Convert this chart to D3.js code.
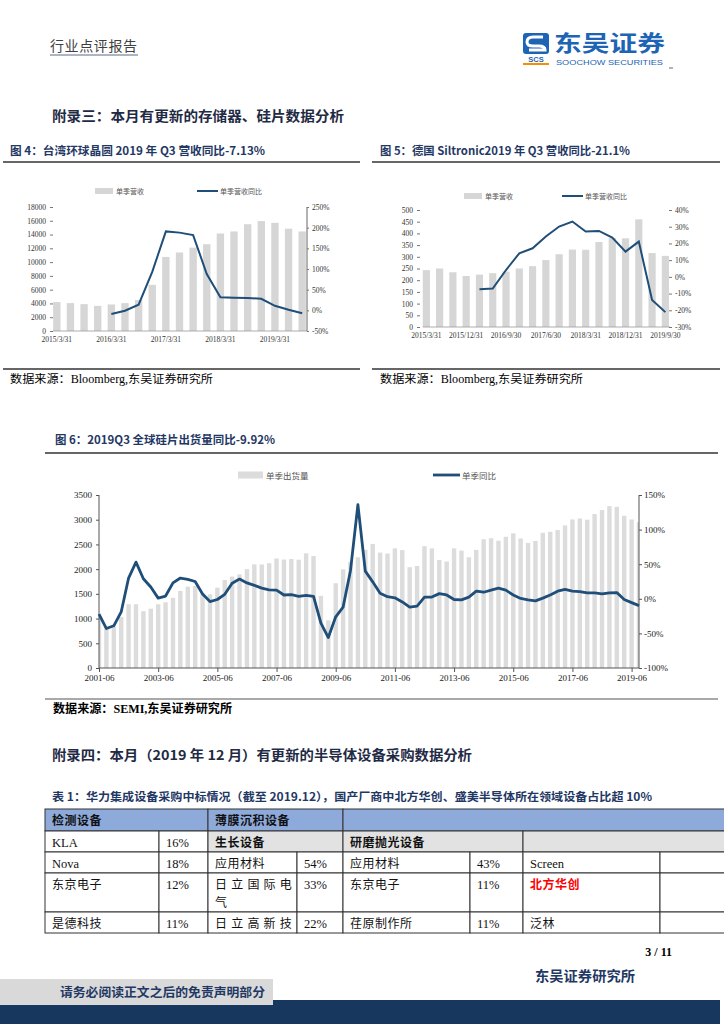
<!DOCTYPE html>
<html><head><meta charset="utf-8">
<script src="https://cdn.jsdelivr.net/npm/d3@7"></script>
<style>
body{margin:0;background:#fff;}
svg{display:block;}
</style></head><body>
<svg id="page" width="724" height="1024"></svg>
<script>
// ---------------- DATA ----------------
const fig4Categories = ["2015/3/31","2015/6/30","2015/9/30","2015/12/31","2016/3/31","2016/6/30","2016/9/30","2016/12/31","2017/3/31","2017/6/30","2017/9/30","2017/12/31","2018/3/31","2018/6/30","2018/9/30","2018/12/31","2019/3/31","2019/6/30","2019/9/30"];
const fig4Revenue = [4200,4050,3900,3650,3850,4050,4500,6700,10750,11400,12100,12600,14150,14450,15500,15950,15700,14850,14450];
const fig4YoY = [null,null,null,null,-9,-1,13.5,93,191,188,182,88,31.5,30.5,30,28,11,1.5,-7.13];
const fig4LeftTicks = [0,2000,4000,6000,8000,10000,12000,14000,16000,18000];
const fig4RightTicks = [-50,0,50,100,150,200,250];
const fig4Labels = ["2015/3/31","2016/3/31","2017/3/31","2018/3/31","2019/3/31"];

const fig5Categories = fig4Categories;
const fig5Revenue = [243,250,234,218,224,230,237,250,260,286,311,331,330,363,380,379,460,316,304];
const fig5YoY = [null,null,null,null,-7.4,-7.0,4.1,14.1,17.1,24.1,30.1,33.1,27.1,27.5,23.5,15.1,21.1,-13.8,-21.1];
const fig5LeftTicks = [0,50,100,150,200,250,300,350,400,450,500];
const fig5RightTicks = [-30,-20,-10,0,10,20,30,40];
const fig5Labels = ["2015/3/31","2015/12/31","2016/9/30","2017/6/30","2018/3/31","2018/12/31","2019/9/30"];

const fig6Categories = ["2001-06","2001-09","2001-12",
"2002-03","2002-06","2002-09","2002-12","2003-03","2003-06","2003-09","2003-12",
"2004-03","2004-06","2004-09","2004-12","2005-03","2005-06","2005-09","2005-12",
"2006-03","2006-06","2006-09","2006-12","2007-03","2007-06","2007-09","2007-12",
"2008-03","2008-06","2008-09","2008-12","2009-03","2009-06","2009-09","2009-12",
"2010-03","2010-06","2010-09","2010-12","2011-03","2011-06","2011-09","2011-12",
"2012-03","2012-06","2012-09","2012-12","2013-03","2013-06","2013-09","2013-12",
"2014-03","2014-06","2014-09","2014-12","2015-03","2015-06","2015-09","2015-12",
"2016-03","2016-06","2016-09","2016-12","2017-03","2017-06","2017-09","2017-12",
"2018-03","2018-06","2018-09","2018-12","2019-03","2019-06","2019-09"];
const fig6Shipments = [1050,800,830,1030,1290,1290,1150,1200,1290,1330,1420,1560,1645,1660,1500,1490,1625,1780,1850,1895,2000,2095,2095,2120,2215,2195,2205,2190,2320,2265,1460,965,1715,1995,2150,2240,2390,2510,2335,2315,2420,2385,2040,2065,2465,2420,2185,2155,2420,2375,2240,2390,2605,2625,2575,2655,2725,2620,2530,2570,2735,2755,2790,2885,3005,3025,3000,3115,3195,3275,3260,3080,3005,2950];
const fig6YoY = [-22,-43,-39,-19,30,53,29,17,1,4,23,30,28,25,7,-4,-1,6.5,22.5,28.5,23,19.5,15.5,13,12.5,5.5,6,3.5,5,3.5,-35,-56,-26,-12,41,136,40,24.5,8,3,1.5,-4.5,-12,-10.5,2.5,2.5,7.5,5.5,-1,-1.5,2.5,11,9.5,12.5,15.5,12.5,5.5,0.5,-1.5,-3,1,5.5,11,13.5,11,10.5,8.5,8.5,7,8.7,9,-1,-5.5,-9.92];
const fig6LeftTicks = [0,500,1000,1500,2000,2500,3000,3500];
const fig6RightTicks = [-100,-50,0,50,100,150];
const fig6Labels = ["2001-06","2003-06","2005-06","2007-06","2009-06","2011-06","2013-06","2015-06","2017-06","2019-06"];

const tableRows = [
  [{c:[0,2],t:"检测设备",h:1},{c:[2,4],t:"薄膜沉积设备",h:1},{c:[4,8],t:"",h:1}],
  [{c:[0,1],t:"KLA"},{c:[1,2],t:"16%"},{c:[2,4],t:"生长设备",s:1},{c:[4,6],t:"研磨抛光设备",s:1},{c:[6,8],t:"",s:1}],
  [{c:[0,1],t:"Nova"},{c:[1,2],t:"18%"},{c:[2,3],t:"应用材料"},{c:[3,4],t:"54%"},{c:[4,5],t:"应用材料"},{c:[5,6],t:"43%"},{c:[6,7],t:"Screen"},{c:[7,8],t:""}],
  [{c:[0,1],t:"东京电子"},{c:[1,2],t:"12%"},{c:[2,3],t:"日立国际电气",wrap:5},{c:[3,4],t:"33%"},{c:[4,5],t:"东京电子"},{c:[5,6],t:"11%"},{c:[6,7],t:"北方华创",red:1},{c:[7,8],t:""}],
  [{c:[0,1],t:"是德科技"},{c:[1,2],t:"11%"},{c:[2,3],t:"日立高新技",sp:1},{c:[3,4],t:"22%"},{c:[4,5],t:"荏原制作所"},{c:[5,6],t:"11%"},{c:[6,7],t:"泛林"},{c:[7,8],t:""}]
];

// ---------------- STYLE ----------------
const svg = d3.select("#page");
const CJK = "'Noto Sans CJK SC', sans-serif";
const SERIF = "'Liberation Serif','Noto Sans CJK SC', serif";
const NAVY = "#1f3864";
const LINE_BLUE = "#1f4e79";

function text(x, y, s, o = {}) {
  const t = svg.append("text").attr("x", x).attr("y", y).text(s)
    .attr("font-family", o.family || CJK).attr("font-size", o.size || 12)
    .attr("font-weight", o.weight || "normal").attr("fill", o.fill || "#000");
  if (o.anchor) t.attr("text-anchor", o.anchor);
  if (o.len) t.attr("textLength", o.len).attr("lengthAdjust", "spacingAndGlyphs");
  if (o.ls) t.attr("letter-spacing", o.ls);
  return t;
}
function hline(x1, x2, y, w, c) {
  svg.append("line").attr("x1", x1).attr("x2", x2).attr("y1", y).attr("y2", y)
    .attr("stroke", c || "#333").attr("stroke-width", w || 1);
}

// ---------------- PAGE HEADER ----------------
text(50, 51, "行业点评报告", {size: 14, fill: "#404040", ls: 0.6});
hline(50, 138, 55, 1, "#5a6a8a");
// logo
svg.append("rect").attr("x", 523).attr("y", 33).attr("width", 26).attr("height", 21).attr("rx", 3).attr("fill", "#1e64b4");
svg.append("path").attr("d", "M543,37 L533,37 Q527,37 527,42 Q527,46 533,46 L539,46 Q545,46 545,50 L529,50")
  .attr("fill", "none").attr("stroke", "#fff").attr("stroke-width", 3);
text(536, 62, "SCS", {family: "'Liberation Sans', sans-serif", size: 7.5, weight: "bold", fill: "#1e64b4", anchor: "middle"});
svg.append("rect").attr("x", 523).attr("y", 63).attr("width", 26).attr("height", 2).attr("fill", "#f29100");
text(554, 51, "东吴证券", {size: 22, weight: "bold", fill: "#1e64b4", len: 111});
text(556, 65, "SOOCHOW SECURITIES", {family: "'Liberation Sans', sans-serif", size: 7.5, fill: "#1e64b4", len: 107});
hline(669, 673, 68, 1, "#666");

text(52, 121, "附录三：本月有更新的存储器、硅片数据分析", {size: 13.5, weight: "bold", fill: "#1f2a44", len: 292});

// ---------------- COMBO CHART (fig 4/5) ----------------
function drawCombo(cfg) {
  const g = svg.append("g");
  const x = d3.scaleBand().domain(cfg.categories).range(cfg.xRange).paddingInner(0.46).paddingOuter(0.23);
  const yL = d3.scaleLinear().domain(cfg.leftDomain).range(cfg.yRange);
  const yR = d3.scaleLinear().domain(cfg.rightDomain).range(cfg.yRange);
  text(cfg.titleX, 155, cfg.title, {size: 11.5, weight: "bold", fill: NAVY, len: cfg.titleLen});
  hline(cfg.ruleX[0], cfg.ruleX[1], 162, 1.6, "#333");
  hline(cfg.ruleX[0], cfg.ruleX[1], 369, 1.6, "#333");
  text(cfg.titleX, 383, "数据来源：Bloomberg,东吴证券研究所", {family: SERIF, size: 11.5, len: 203});
  g.selectAll("rect.bar").data(cfg.bars).join("rect").attr("class", "bar")
    .attr("x", (d, i) => x(cfg.categories[i])).attr("width", x.bandwidth())
    .attr("y", d => yL(d)).attr("height", d => yL(0) - yL(d)).attr("fill", "#d6d6d6");
  g.append("line").attr("x1", cfg.xRange[0] + 3).attr("x2", cfg.xRange[1] - 2)
    .attr("y1", yL(0)).attr("y2", yL(0)).attr("stroke", "#9a9a9a").attr("stroke-width", 0.8);
  const la = g.append("g").attr("transform", `translate(${cfg.leftAxisX},0)`)
    .call(d3.axisLeft(yL).tickValues(cfg.leftTicks).tickSize(3).tickPadding(4).tickFormat(d3.format("d")));
  la.select(".domain").remove();
  la.selectAll("line").attr("stroke", "#777");
  la.selectAll("text").attr("font-family", SERIF).attr("font-size", 7.5).attr("fill", "#333");
  const ra = g.append("g").attr("transform", `translate(${cfg.rightAxisX},0)`)
    .call(d3.axisRight(yR).tickValues(cfg.rightTicks).tickSize(cfg.rightTick).tickPadding(3).tickFormat(d => d + "%"));
  if (!cfg.rightDomainLine) ra.select(".domain").remove();
  else ra.select(".domain").attr("stroke", "#666").attr("d", `M0,${cfg.yRange[1]}V${cfg.yRange[0]}`);
  ra.selectAll("line").attr("stroke", "#777");
  ra.selectAll("text").attr("font-family", SERIF).attr("font-size", 7.5).attr("fill", "#333");
  g.selectAll("text.xl").data(cfg.labels).join("text").attr("class", "xl")
    .attr("x", d => x(d) + x.bandwidth() / 2).attr("y", yL(0) + 11).attr("text-anchor", "middle")
    .attr("font-family", SERIF).attr("font-size", 7.5).attr("fill", "#333").text(d => d);
  const line = d3.line().defined(d => d.v !== null)
    .x(d => x(d.c) + x.bandwidth() / 2).y(d => yR(d.v));
  g.append("path").datum(cfg.categories.map((c, i) => ({c, v: cfg.line[i]})))
    .attr("d", line).attr("fill", "none").attr("stroke", LINE_BLUE).attr("stroke-width", 2);
  const ly = cfg.legendY;
  g.append("rect").attr("x", cfg.legend[0]).attr("y", ly - 3).attr("width", 18).attr("height", 6).attr("fill", "#d6d6d6");
  text(cfg.legend[0] + 21, ly + 2.5, cfg.barName, {size: 7, fill: "#555"});
  g.append("line").attr("x1", cfg.legend[1]).attr("x2", cfg.legend[1] + 21).attr("y1", ly).attr("y2", ly)
    .attr("stroke", LINE_BLUE).attr("stroke-width", 2);
  text(cfg.legend[1] + 23, ly + 2.5, cfg.lineName, {size: 7, fill: "#555"});
}

drawCombo({
  title: "图 4：台湾环球晶圆 2019 年 Q3 营收同比-7.13%", titleX: 10, titleLen: 255, ruleX: [3, 360],
  categories: fig4Categories, bars: fig4Revenue, line: fig4YoY, labels: fig4Labels,
  xRange: [50, 309], yRange: [331, 207], leftDomain: [0, 18000], rightDomain: [-50, 250],
  leftTicks: fig4LeftTicks, rightTicks: fig4RightTicks,
  leftAxisX: 53, rightAxisX: 307, rightTick: 2, rightDomainLine: true,
  legendY: 191, legend: [95, 197], barName: "单季营收", lineName: "单季营收同比"
});
drawCombo({
  title: "图 5：德国 Siltronic2019 年 Q3 营收同比-21.1%", titleX: 380, titleLen: 250, ruleX: [372, 720],
  categories: fig5Categories, bars: fig5Revenue, line: fig5YoY, labels: fig5Labels,
  xRange: [419.7, 672], yRange: [327, 210], leftDomain: [0, 500], rightDomain: [-30, 40],
  leftTicks: fig5LeftTicks, rightTicks: fig5RightTicks,
  leftAxisX: 420, rightAxisX: 669, rightTick: 3, rightDomainLine: false,
  legendY: 196, legend: [464, 562], barName: "单季营收", lineName: "单季营收同比"
});

// ---------------- FIG 6 ----------------
(function () {
  const g = svg.append("g");
  const X0 = 99, X1 = 639, Y0 = 668, Y1 = 495;
  text(55, 444, "图 6：2019Q3 全球硅片出货量同比-9.92%", {size: 11.5, weight: "bold", fill: NAVY, len: 220});
  hline(45, 718, 453, 1.6, "#333");
  hline(45, 718, 699, 1.2, "#555");
  text(53, 713, "数据来源：SEMI,东吴证券研究所", {family: SERIF, size: 12, weight: "bold", len: 179});

  const x = d3.scalePoint().domain(fig6Categories).range([X0, X1]);
  const yL = d3.scaleLinear().domain([0, 3500]).range([Y0, Y1]);
  const yR = d3.scaleLinear().domain([-100, 150]).range([Y0, Y1]);
  svg.append("clipPath").attr("id", "clip6").append("rect").attr("x", X0).attr("y", Y1 - 5).attr("width", X1 - X0).attr("height", Y0 - Y1 + 5);
  const bw = 4.4;
  g.append("g").attr("clip-path", "url(#clip6)").selectAll("rect").data(fig6Shipments).join("rect")
    .attr("x", (d, i) => x(fig6Categories[i]) - bw / 2).attr("width", bw)
    .attr("y", d => yL(d)).attr("height", d => Y0 - yL(d)).attr("fill", "#dcdcdc");

  const la = g.append("g").attr("transform", `translate(${X0},0)`)
    .call(d3.axisLeft(yL).tickValues(fig6LeftTicks).tickSize(3).tickPadding(4).tickFormat(d3.format("d")));
  la.select(".domain").attr("stroke", "#555").attr("d", `M0,${Y1}V${Y0}`);
  la.selectAll("line").attr("stroke", "#555");
  la.selectAll("text").attr("font-family", SERIF).attr("font-size", 9).attr("fill", "#222");

  const ra = g.append("g").attr("transform", `translate(${X1},0)`)
    .call(d3.axisRight(yR).tickValues(fig6RightTicks).tickSize(3).tickPadding(2).tickFormat(d => d + "%"));
  ra.select(".domain").attr("stroke", "#555").attr("d", `M0,${Y1}V${Y0}`);
  ra.selectAll("line").attr("stroke", "#555");
  ra.selectAll("text").attr("font-family", SERIF).attr("font-size", 9).attr("fill", "#222");

  const ba = g.append("g").attr("transform", `translate(0,${Y0})`)
    .call(d3.axisBottom(x).tickValues(fig6Labels).tickSize(4).tickPadding(3));
  ba.select(".domain").attr("stroke", "#555").attr("d", `M${X0},0H${X1}`);
  ba.selectAll("line").attr("stroke", "#555");
  ba.selectAll("text").attr("font-family", SERIF).attr("font-size", 9).attr("fill", "#222");

  const line = d3.line().x((d, i) => x(fig6Categories[i])).y(d => yR(d));
  g.append("path").datum(fig6YoY).attr("d", line).attr("fill", "none")
    .attr("stroke", LINE_BLUE).attr("stroke-width", 2.8).attr("stroke-linejoin", "round");

  g.append("rect").attr("x", 238).attr("y", 471.5).attr("width", 25).attr("height", 7).attr("fill", "#dcdcdc");
  text(266, 478.5, "单季出货量", {size: 8.5, fill: "#555"});
  g.append("line").attr("x1", 433).attr("x2", 460).attr("y1", 475).attr("y2", 475).attr("stroke", LINE_BLUE).attr("stroke-width", 2.8);
  text(462, 478.5, "单季同比", {size: 8.5, fill: "#555"});
})();

// ---------------- APPENDIX 4 + TABLE ----------------
text(52, 760, "附录四：本月（2019 年 12 月）有更新的半导体设备采购数据分析", {size: 13.5, weight: "bold", fill: "#1f2a44", len: 420});
text(52, 801, "表 1：华力集成设备采购中标情况（截至 2019.12），国产厂商中北方华创、盛美半导体所在领域设备占比超 10%", {size: 11.5, weight: "bold", fill: NAVY, len: 600});

(function () {
  const colX = [45, 159, 208, 297, 343, 470, 523, 660, 740];
  const rowY = [809, 831, 852, 873, 912, 933];
  const tg = svg.append("g");
  tableRows.forEach((row, r) => {
    row.forEach(cell => {
      const x0 = colX[cell.c[0]], x1 = colX[cell.c[1]], y0 = rowY[r], y1 = rowY[r + 1];
      tg.append("rect").attr("x", x0).attr("y", y0).attr("width", x1 - x0).attr("height", y1 - y0)
        .attr("fill", cell.h ? "#8eaadb" : (cell.s ? "#e2e2e2" : "#fff"))
        .attr("stroke", "#333").attr("stroke-width", 1);
      if (!cell.t) return;
      const latin = /^[A-Za-z0-9%]+$/.test(cell.t);
      const o = {
        family: latin ? SERIF : CJK,
        size: latin ? 12.5 : 12,
        weight: (cell.h || cell.s || cell.red) ? "bold" : "normal",
        fill: cell.red ? "#ff0000" : "#111"
      };
      if (cell.wrap) {
        text(x0 + 7, y0 + 15.5, cell.t.slice(0, cell.wrap), Object.assign({ls: 4.2}, o));
        text(x0 + 7, y0 + 34, cell.t.slice(cell.wrap), Object.assign({ls: 4.2}, o));
      } else {
        if (cell.sp) o.ls = 4.2;
        else if (!latin) o.ls = 0.5;
        text(x0 + 7, y0 + 15.5, cell.t, o);
      }
    });
  });
})();

// ---------------- FOOTER ----------------
text(672, 956, "3 / 11", {family: SERIF, size: 12, weight: "bold", anchor: "end"});
text(535, 981, "东吴证券研究所", {size: 14, weight: "bold", fill: NAVY, len: 100});
svg.append("rect").attr("x", 0).attr("y", 1000).attr("width", 720).attr("height", 24).attr("fill", "#17375e");
svg.append("rect").attr("x", 0).attr("y", 979).attr("width", 273).attr("height", 26).attr("fill", "#d9d9d9");
text(60, 997, "请务必阅读正文之后的免责声明部分", {size: 12.5, weight: "bold", fill: NAVY, len: 205});
</script>
</body></html>
